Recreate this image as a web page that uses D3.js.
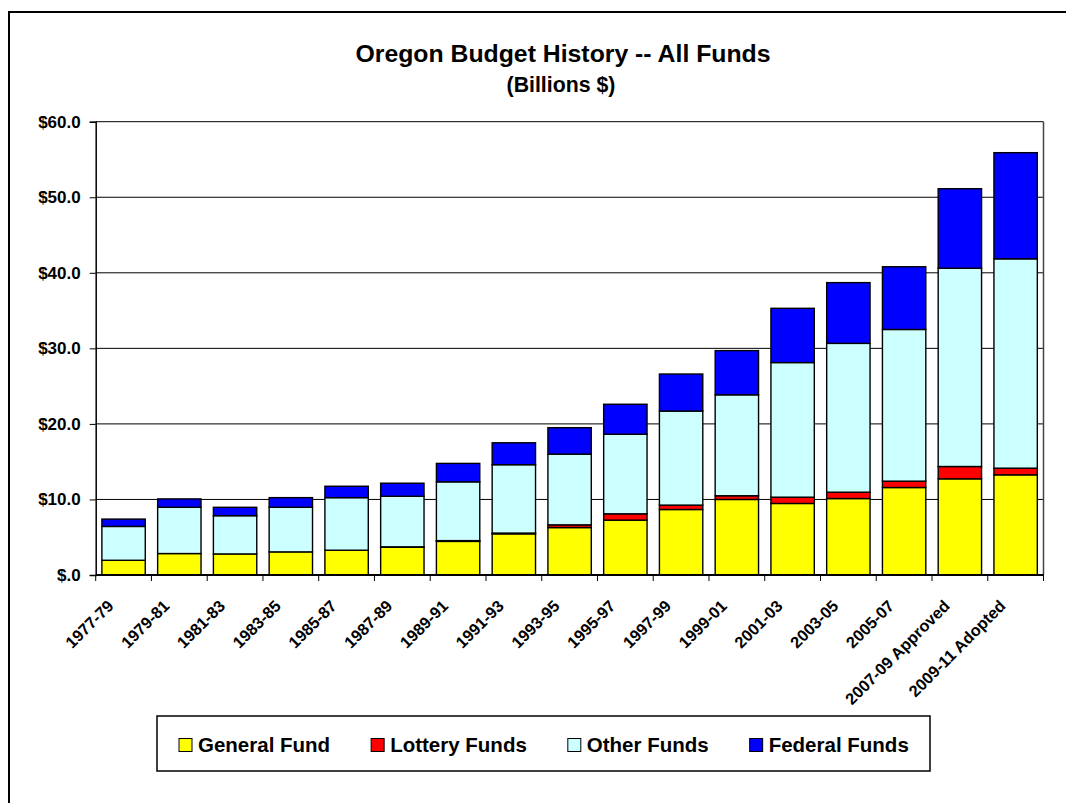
<!DOCTYPE html>
<html>
<head>
<meta charset="utf-8">
<script src="https://cdn.jsdelivr.net/npm/d3@7"></script>
<style>
  html, body { margin: 0; padding: 0; background: #fff; }
  svg { display: block; font-family: "Liberation Sans", Arial, sans-serif; }
</style>
</head>
<body>
<svg id="chart" width="1066" height="803"></svg>
<script>
// ---- data ----
const categories = ["1977-79","1979-81","1981-83","1983-85","1985-87","1987-89","1989-91","1991-93","1993-95","1995-97","1997-99","1999-01","2001-03","2003-05","2005-07","2007-09 Approved","2009-11 Adopted"];
const generalFund  = [1.95, 2.84, 2.79, 3.06, 3.28, 3.68, 4.45, 5.45, 6.28, 7.26, 8.67, 10.00, 9.47, 10.12, 11.58, 12.73, 13.26];
const lotteryFunds = [0, 0, 0, 0, 0, 0.05, 0.10, 0.10, 0.36, 0.84, 0.58, 0.49, 0.83, 0.84, 0.84, 1.63, 0.88];
const otherFunds   = [4.48, 6.12, 5.06, 5.90, 6.96, 6.69, 7.78, 9.05, 9.36, 10.53, 12.45, 13.36, 17.82, 19.70, 20.08, 26.24, 27.71];
const federalFunds = [0.97, 1.11, 1.11, 1.28, 1.51, 1.73, 2.44, 2.90, 3.50, 3.97, 4.90, 5.85, 7.18, 8.04, 8.30, 10.53, 14.05];
const seriesNames  = ["General Fund", "Lottery Funds", "Other Funds", "Federal Funds"];
const seriesColors = ["#FFFF00", "#FF0000", "#CCFFFF", "#0000FF"];
const yTicks = [0, 10, 20, 30, 40, 50, 60];
const titleText = "Oregon Budget History -- All Funds";
const subtitleText = "(Billions $)";

// ---- layout ----
const svg = d3.select("#chart");
const plot = {left: 95.7, right: 1043.5, top: 121.7, bottom: 575};

const rows = categories.map((c, i) => ({
  cat: c,
  "General Fund": generalFund[i],
  "Lottery Funds": lotteryFunds[i],
  "Other Funds": otherFunds[i],
  "Federal Funds": federalFunds[i]
}));
const stacked = d3.stack().keys(seriesNames)(rows);

const x = d3.scaleBand().domain(categories).range([plot.left, plot.right]).paddingInner(0.222).paddingOuter(0.111);
const xb = d3.scaleBand().domain(categories).range([plot.left, plot.right]);
const y = d3.scaleLinear().domain([0, 60]).range([plot.bottom, plot.top]);
const color = d3.scaleOrdinal().domain(seriesNames).range(seriesColors);

// outer frame
svg.append("rect").attr("x", 9).attr("y", 12).attr("width", 1200).attr("height", 1000)
  .attr("fill", "none").attr("stroke", "#000").attr("stroke-width", 2);

// title
svg.append("text").attr("x", 563).attr("y", 62).attr("text-anchor", "middle")
  .attr("font-size", 24.8).attr("font-weight", "bold").text(titleText);
svg.append("text").attr("x", 561).attr("y", 92).attr("text-anchor", "middle")
  .attr("font-size", 21.3).attr("font-weight", "bold").text(subtitleText);

// gridlines
svg.append("g").selectAll("line").data(yTicks.filter(d => d > 0)).join("line")
  .attr("x1", plot.left).attr("x2", plot.right)
  .attr("y1", d => y(d)).attr("y2", d => y(d))
  .attr("stroke", "#000").attr("stroke-width", 1);

// plot right border
svg.append("line").attr("x1", plot.right).attr("x2", plot.right)
  .attr("y1", plot.top).attr("y2", plot.bottom).attr("stroke", "#444").attr("stroke-width", 1.5);

// bars
svg.append("g").selectAll("g").data(stacked).join("g")
  .attr("fill", d => color(d.key))
  .selectAll("rect").data(d => d.filter(p => p[1] - p[0] > 0)).join("rect")
  .attr("x", d => x(d.data.cat))
  .attr("width", x.bandwidth())
  .attr("y", d => y(d[1]))
  .attr("height", d => y(d[0]) - y(d[1]))
  .attr("stroke", "#000").attr("stroke-width", 1.4);

// y axis
const yAxis = d3.axisLeft(y).tickValues(yTicks).tickSize(6).tickPadding(9)
  .tickFormat(v => v === 0 ? "$.0" : "$" + v.toFixed(1));
const gy = svg.append("g").attr("transform", `translate(${plot.left},0)`).call(yAxis);
gy.select(".domain").attr("stroke", "#000").attr("stroke-width", 1.5);
gy.selectAll(".tick line").attr("stroke", "#000");
gy.selectAll(".tick text").attr("font-size", 17).attr("font-weight", "bold")
  .attr("font-family", "Liberation Sans, Arial, sans-serif").attr("fill", "#000");

// x axis (ticks at band boundaries)
const gx = svg.append("g").attr("transform", `translate(0,${plot.bottom})`);
gx.append("line").attr("x1", plot.left).attr("x2", plot.right).attr("y1", 0).attr("y2", 0)
  .attr("stroke", "#000").attr("stroke-width", 2);
const boundaries = categories.map(c => xb(c)).concat([plot.right]);
gx.selectAll("line.tk").data(boundaries).join("line").attr("class", "tk")
  .attr("x1", d => d).attr("x2", d => d).attr("y1", 0).attr("y2", 6)
  .attr("stroke", "#000").attr("stroke-width", 1);
gx.selectAll("text").data(categories).join("text")
  .attr("transform", d => `translate(${xb(d) + xb.bandwidth() / 2 - 9},${32}) rotate(-45)`)
  .attr("text-anchor", "end")
  .attr("font-size", 16.3).attr("font-weight", "bold").text(d => d);

// legend
const legend = svg.append("g");
legend.append("rect").attr("x", 157).attr("y", 716).attr("width", 773).attr("height", 55)
  .attr("fill", "#fff").attr("stroke", "#000").attr("stroke-width", 1.5);
let lx = 179;
seriesNames.forEach(name => {
  legend.append("rect").attr("x", lx).attr("y", 738.5).attr("width", 13).attr("height", 13)
    .attr("fill", color(name)).attr("stroke", "#000").attr("stroke-width", 1);
  const t = legend.append("text").attr("x", lx + 19).attr("y", 751.5)
    .attr("font-size", 20.5).attr("font-weight", "bold").text(name);
  lx = lx + 19 + t.node().getComputedTextLength() + 41;
});
</script>
</body>
</html>
